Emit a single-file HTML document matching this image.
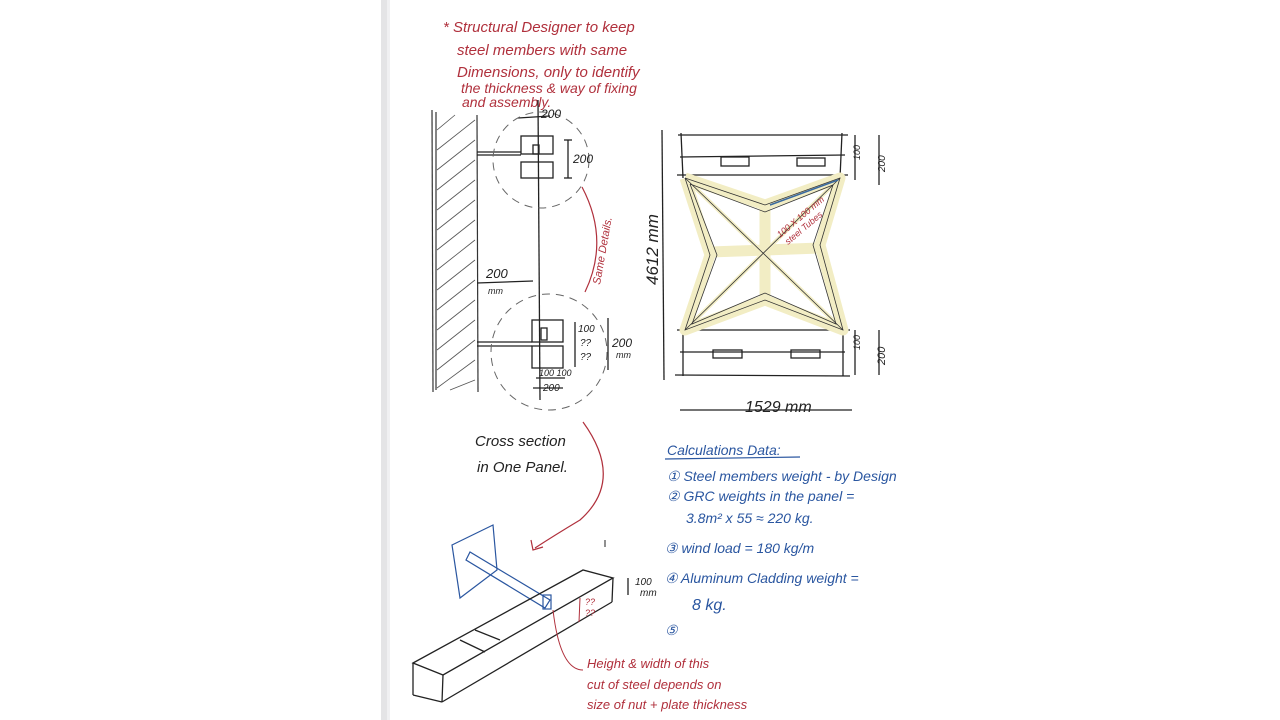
<!DOCTYPE html>
<html><head><meta charset="utf-8"><style>
html,body{margin:0;padding:0;background:#fff;width:1280px;height:720px;overflow:hidden}
svg{display:block}
.r{fill:#b0303c;font-family:"Liberation Sans",sans-serif;font-style:italic}
.b{fill:#2a56a0;font-family:"Liberation Sans",sans-serif;font-style:italic}
.k{fill:#222;font-family:"Liberation Sans",sans-serif;font-style:italic}
</style></head><body>
<svg width="1280" height="720" viewBox="0 0 1280 720" xmlns="http://www.w3.org/2000/svg">
<rect x="0" y="0" width="1280" height="720" fill="#fff"/>
<rect x="381" y="0" width="6" height="720" fill="#e4e4e6"/>
<rect x="387" y="0" width="3" height="720" fill="#f0f0f2"/>
<g class="r" font-size="15">
<text x="443" y="32">* Structural Designer to keep</text>
<text x="457" y="55">steel members with same</text>
<text x="457" y="77">Dimensions, only to identify</text>
<text x="461" y="93" font-size="14">the thickness &amp; way of fixing</text>
<text x="462" y="107" font-size="14">and assembly.</text>
</g>
<g stroke="#333" stroke-width="1.2" fill="none">
<line x1="432" y1="110" x2="433" y2="392"/><line x1="436" y1="112" x2="436" y2="390"/>
<line x1="477" y1="115" x2="478" y2="392"/>
</g>
<g stroke="#555" stroke-width="0.8">
<line x1="437" y1="130" x2="455" y2="115"/><line x1="437" y1="150" x2="475" y2="120"/>
<line x1="437" y1="170" x2="475" y2="140"/><line x1="437" y1="190" x2="475" y2="160"/>
<line x1="437" y1="210" x2="475" y2="180"/><line x1="437" y1="230" x2="475" y2="200"/>
<line x1="437" y1="250" x2="475" y2="220"/><line x1="437" y1="270" x2="475" y2="240"/>
<line x1="437" y1="290" x2="475" y2="260"/><line x1="437" y1="310" x2="475" y2="280"/>
<line x1="437" y1="330" x2="475" y2="300"/><line x1="437" y1="350" x2="475" y2="320"/>
<line x1="437" y1="370" x2="475" y2="340"/><line x1="437" y1="388" x2="475" y2="360"/>
<line x1="450" y1="390" x2="475" y2="380"/>
</g>
<g stroke="#222" fill="none" stroke-width="1.3">
<line x1="538" y1="100" x2="540" y2="400"/>
<rect x="521" y="136" width="32" height="18"/><rect x="521" y="162" width="32" height="16"/>
<rect x="533" y="145" width="6" height="9"/>
<line x1="477" y1="152" x2="521" y2="152"/><line x1="477" y1="155" x2="521" y2="155"/>
<line x1="568" y1="140" x2="568" y2="178"/><line x1="564" y1="140" x2="572" y2="140"/><line x1="564" y1="178" x2="572" y2="178"/>
<line x1="518" y1="118" x2="550" y2="116"/>
<rect x="532" y="320" width="31" height="22"/><rect x="532" y="346" width="31" height="22"/>
<rect x="541" y="328" width="6" height="12"/>
<line x1="477" y1="342" x2="532" y2="342"/><line x1="477" y1="346" x2="532" y2="346"/>
<line x1="575" y1="322" x2="575" y2="367"/><line x1="608" y1="318" x2="608" y2="370"/>
<line x1="477" y1="283" x2="533" y2="281"/>
<line x1="533" y1="388" x2="563" y2="388"/><line x1="536" y1="378" x2="565" y2="378"/>
</g>
<g stroke="#666" fill="none" stroke-width="1" stroke-dasharray="8 6">
<circle cx="541" cy="160" r="48"/><circle cx="549" cy="352" r="58"/>
</g>
<g class="k" font-size="12">
<text x="541" y="118">200</text><text x="573" y="163">200</text>
<text x="578" y="332" font-size="10">100</text><text x="580" y="346" font-size="10">??</text><text x="580" y="360" font-size="10">??</text>
<text x="612" y="347">200</text><text x="616" y="358" font-size="9">mm</text>
<text x="539" y="376" font-size="9">100 100</text><text x="543" y="391" font-size="10">200</text>
<text x="486" y="278" font-size="13">200</text><text x="488" y="294" font-size="9">mm</text>
<text x="475" y="446" font-size="15">Cross section</text>
<text x="477" y="472" font-size="15">in One Panel.</text>
</g>
<path d="M582 187 Q610 240 585 292" stroke="#b0303c" fill="none" stroke-width="1.2"/>
<text class="r" font-size="11" transform="translate(600,285) rotate(-80)">Same Details.</text>
<path d="M583 422 Q625 480 580 520 Q555 535 535 548" stroke="#b0303c" fill="none" stroke-width="1.2"/>
<path d="M531 540 L533 550 L543 547" stroke="#b0303c" fill="none" stroke-width="1.2"/>
<g stroke="#222" fill="none" stroke-width="1.3">
<line x1="662" y1="130" x2="664" y2="380"/>
<line x1="678" y1="135" x2="848" y2="135"/><line x1="680" y1="157" x2="845" y2="155"/>
<line x1="677" y1="175" x2="848" y2="175"/>
<line x1="681" y1="133" x2="683" y2="178"/><line x1="842" y1="133" x2="840" y2="178"/>
<rect x="721" y="157" width="28" height="9"/><rect x="797" y="158" width="28" height="8"/>
<line x1="677" y1="330" x2="850" y2="330"/><line x1="680" y1="352" x2="845" y2="352"/>
<line x1="675" y1="375" x2="850" y2="376"/>
<line x1="683" y1="330" x2="683" y2="376"/><line x1="843" y1="330" x2="843" y2="376"/>
<rect x="713" y="350" width="29" height="8"/><rect x="791" y="350" width="29" height="8"/>
<line x1="855" y1="135" x2="855" y2="180"/><line x1="879" y1="135" x2="879" y2="185"/>
<line x1="855" y1="330" x2="855" y2="375"/><line x1="879" y1="330" x2="879" y2="375"/>
<line x1="680" y1="410" x2="852" y2="410"/>
</g>
<g stroke="#f2edc4" stroke-width="11" fill="none" stroke-linejoin="round">
<polyline points="685,178 765,205 840,178 820,245 843,330 765,300 685,330 710,255 685,178"/>
<line x1="765" y1="205" x2="765" y2="300"/><line x1="710" y1="252" x2="820" y2="248"/>
<line x1="685" y1="178" x2="843" y2="330" stroke-width="4"/><line x1="840" y1="178" x2="685" y2="330" stroke-width="4"/>
</g>
<g stroke="#333" stroke-width="0.8" fill="none">
<polyline points="685,178 765,205 840,178 820,245 843,330 765,300 685,330 710,255 685,178"/>
<polyline points="690,184 765,212 833,185 813,245 836,324 765,293 692,324 717,255 690,184"/>
<line x1="685" y1="178" x2="843" y2="330"/><line x1="840" y1="178" x2="685" y2="330"/>
</g>
<line x1="770" y1="205" x2="838" y2="180" stroke="#3a6aa0" stroke-width="1.5"/>
<text class="r" font-size="9" transform="translate(780,238) rotate(-40)">100 X 100 mm</text>
<text class="r" font-size="9" transform="translate(788,245) rotate(-40)">steel Tubes</text>
<g class="k">
<text font-size="17" transform="translate(658,285) rotate(-90)">4612 mm</text>
<text x="745" y="412" font-size="16">1529 mm</text>
<text font-size="9" transform="translate(860,160) rotate(-90)">100</text>
<text font-size="10" transform="translate(885,172) rotate(-90)">200</text>
<text font-size="9" transform="translate(860,350) rotate(-90)">100</text>
<text font-size="11" transform="translate(885,365) rotate(-90)">200</text>
</g>
<g class="b" font-size="14">
<text x="667" y="455">Calculations Data:</text>
<text x="667" y="481">① Steel members weight - by Design</text>
<text x="667" y="501">② GRC weights in the panel =</text>
<text x="686" y="523">3.8m² x 55 ≈ 220 kg.</text>
<text x="665" y="553">③ wind load = 180 kg/m</text>
<text x="665" y="583">④ Aluminum Cladding weight =</text>
<text x="692" y="610" font-size="16">8 kg.</text>
<text x="665" y="635">⑤</text>
</g>
<line x1="665" y1="459" x2="800" y2="457" stroke="#2a56a0" stroke-width="1.2"/>
<g stroke="#2a56a0" stroke-width="1.2" fill="none">
<polygon points="452,545 493,525 497,570 460,598"/>
<polygon points="466,560 470,552 550,600 545,608"/>
<rect x="543" y="595" width="8" height="14"/>
</g>
<g stroke="#222" stroke-width="1.3" fill="none">
<polygon points="413,663 583,570 613,578 443,675"/>
<line x1="413" y1="663" x2="413" y2="695"/><line x1="443" y1="675" x2="442" y2="702"/>
<line x1="413" y1="695" x2="442" y2="702"/><line x1="442" y1="702" x2="612" y2="602"/>
<line x1="613" y1="578" x2="612" y2="602"/>
<line x1="475" y1="630" x2="500" y2="640"/><line x1="460" y1="640" x2="485" y2="652"/>
<line x1="628" y1="578" x2="628" y2="595"/>
</g>
<line x1="605" y1="547" x2="605" y2="540" stroke="#222"/>
<g class="k" font-size="10"><text x="635" y="585">100</text><text x="640" y="596">mm</text></g>
<g class="r" font-size="9"><text x="585" y="605">??</text><text x="585" y="616">??</text></g>
<line x1="580" y1="598" x2="579" y2="622" stroke="#b0303c"/>
<path d="M553 610 Q560 670 583 670" stroke="#b0303c" fill="none"/>
<g class="r" font-size="13">
<text x="587" y="668">Height &amp; width of this</text>
<text x="587" y="689">cut of steel depends on</text>
<text x="587" y="709">size of nut + plate thickness</text>
</g>
</svg>
</body></html>
